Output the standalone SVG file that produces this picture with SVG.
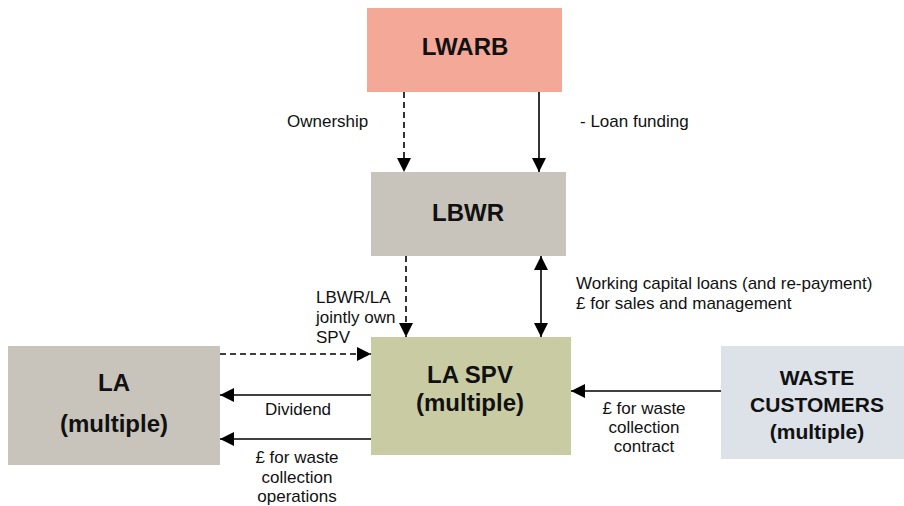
<svg xmlns="http://www.w3.org/2000/svg" width="904" height="506" viewBox="0 0 904 506">
<style>
.box{stroke:none}
.big{font-family:"Liberation Sans",Arial,sans-serif;font-weight:bold;font-size:24px;fill:#111;text-anchor:middle}
.mid{font-family:"Liberation Sans",Arial,sans-serif;font-weight:bold;font-size:21px;fill:#111;text-anchor:middle}
.lbl{font-family:"Liberation Sans",Arial,sans-serif;font-size:17px;fill:#111}
.c{text-anchor:middle}
.ln{stroke:#000;stroke-width:1.6;fill:none}
.dash{stroke-dasharray:6,4}
</style>
<defs>
<marker id="ah" markerUnits="userSpaceOnUse" markerWidth="14" markerHeight="14" viewBox="0 0 14 14" refX="14" refY="7" orient="auto-start-reverse">
<path d="M0,0 L14,7 L0,14 z" fill="#000"/>
</marker>
</defs>
<rect width="904" height="506" fill="#fff"/>
<g id="LWARB">
<rect class="box" x="367" y="8" width="195" height="84" fill="#F4A898"/>
<text class="big" x="465" y="55">LWARB</text>
</g>
<g id="LBWR">
<rect class="box" x="371" y="172" width="195" height="84" fill="#C8C3BB"/>
<text class="big" x="468" y="221">LBWR</text>
</g>
<g id="LASPV">
<rect class="box" x="371" y="337" width="200" height="118" fill="#C9CBA2"/>
<text class="big" x="470" y="383">LA SPV</text>
<text class="big" x="470" y="411">(multiple)</text>
</g>
<g id="LA">
<rect class="box" x="8" y="346" width="212" height="119" fill="#C8C3BB"/>
<text class="big" x="114" y="391">LA</text>
<text class="big" x="114" y="432">(multiple)</text>
</g>
<g id="WASTE">
<rect class="box" x="721" y="346" width="183" height="113" fill="#DCE2E8"/>
<text class="mid" x="817" y="385">WASTE</text>
<text class="mid" x="817" y="412">CUSTOMERS</text>
<text class="mid" x="817" y="439">(multiple)</text>
</g>
<g id="connectors">
<line class="ln dash" x1="404" y1="92" x2="404" y2="172" marker-end="url(#ah)"/>
<line class="ln" x1="539" y1="92" x2="539" y2="172" marker-end="url(#ah)"/>
<line class="ln dash" x1="406" y1="256" x2="406" y2="337" marker-end="url(#ah)"/>
<line class="ln" x1="541" y1="256" x2="541" y2="337" marker-start="url(#ah)" marker-end="url(#ah)"/>
<line class="ln dash" x1="220" y1="354" x2="371" y2="354" marker-end="url(#ah)"/>
<line class="ln" x1="371" y1="395" x2="220" y2="395" marker-end="url(#ah)"/>
<line class="ln" x1="371" y1="439" x2="220" y2="439" marker-end="url(#ah)"/>
<line class="ln" x1="721" y1="391" x2="571" y2="391" marker-end="url(#ah)"/>
</g>
<g id="labels">
<text class="lbl" x="287" y="127">Ownership</text>
<text class="lbl" x="580" y="127">- Loan funding</text>
<text class="lbl" x="316" y="303">LBWR/LA</text>
<text class="lbl" x="316" y="323">jointly own</text>
<text class="lbl" x="316" y="343">SPV</text>
<text class="lbl" x="576" y="289">Working capital loans (and re-payment)</text>
<text class="lbl" x="576" y="309">£ for sales and management</text>
<text class="lbl c" x="298" y="415">Dividend</text>
<text class="lbl c" x="297" y="463">£ for waste</text>
<text class="lbl c" x="297" y="483">collection</text>
<text class="lbl c" x="297" y="502">operations</text>
<text class="lbl c" x="644" y="414">£ for waste</text>
<text class="lbl c" x="644" y="433">collection</text>
<text class="lbl c" x="644" y="452">contract</text>
</g>
</svg>
